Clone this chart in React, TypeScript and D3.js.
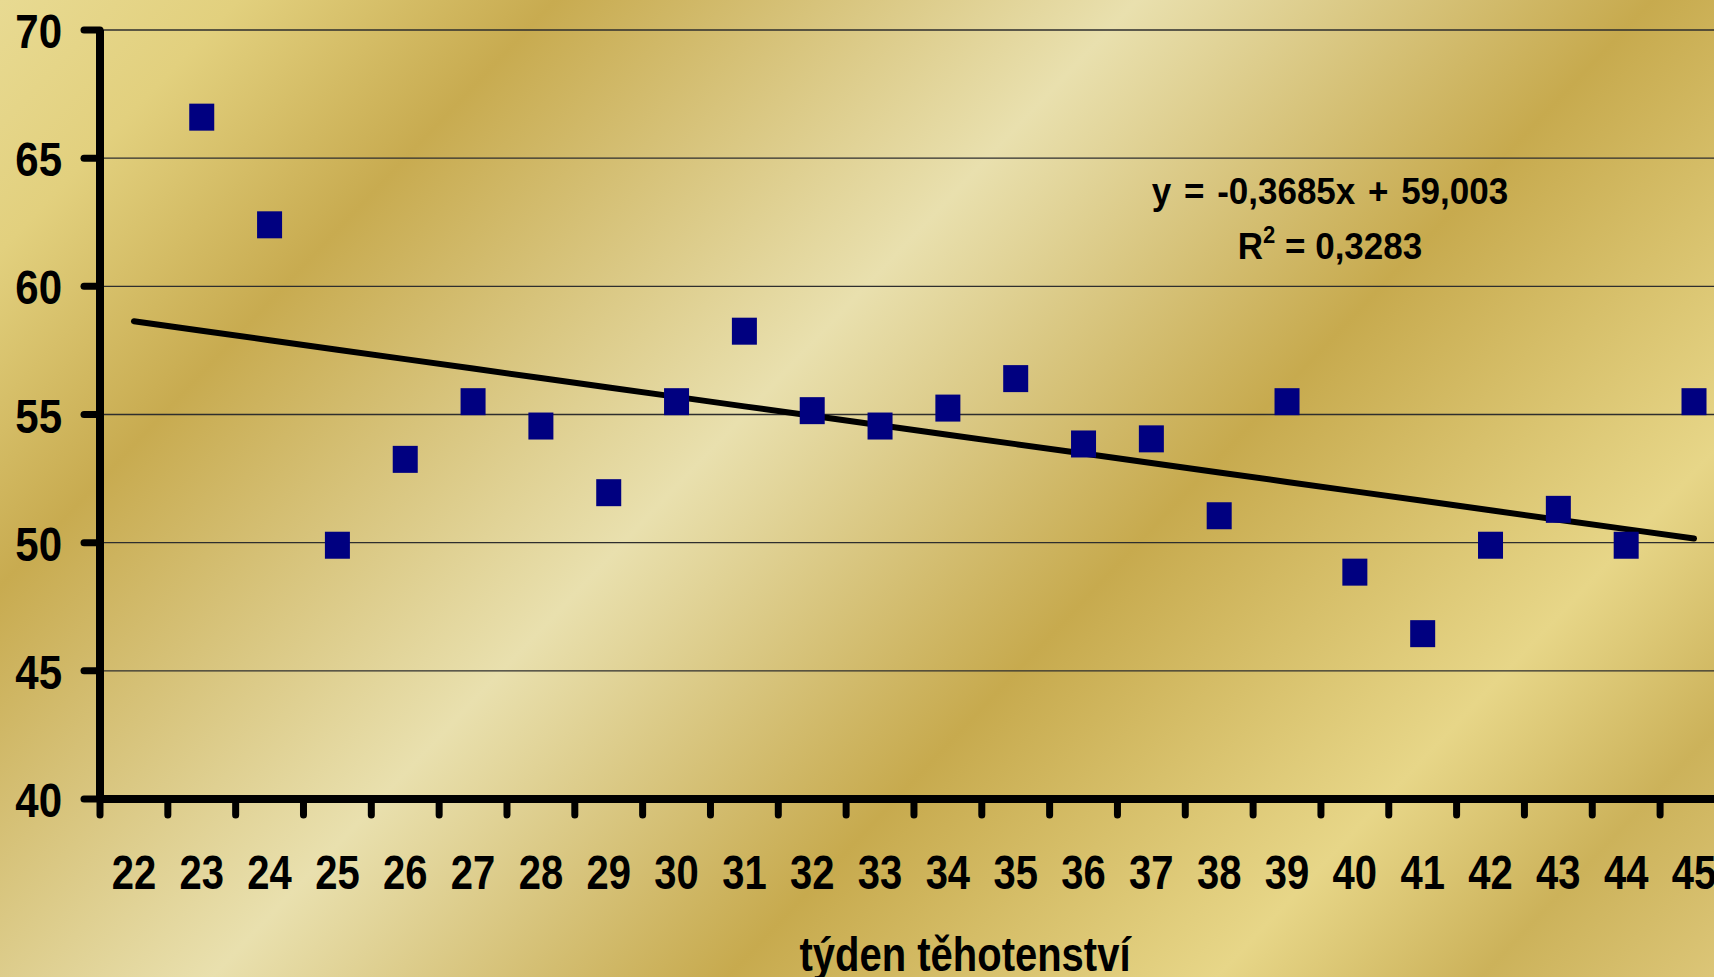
import React from "react";
import * as d3 from "d3";

const WEEKS: string[] = ["22","23","24","25","26","27","28","29","30","31","32","33","34","35","36","37","38","39","40","41","42","43","44","45"];
const VALUES: (number | null)[] = [null, 66.6, 62.4, 49.9, 53.25, 55.5, 54.55, 51.95, 55.5, 58.25, 55.15, 54.55, 55.25, 56.4, 53.85, 54.05, 51.05, 55.5, 48.85, 46.45, 49.9, 51.3, 49.9, 55.5];
const Y_TICKS: number[] = [40, 45, 50, 55, 60, 65, 70];
const TREND_SLOPE = -0.3685;
const TREND_INTERCEPT = 59.003;
const EQUATION_TEXT = "y = -0,3685x + 59,003";
const R2_TEXT = " = 0,3283";
const X_TITLE = "týden těhotenství";

const W = 1714;
const H = 977;
const LEFT = 100;
const BAND = 67.83;
const TOP = 30;
const BOTTOM = 799;
const FONT = "'Liberation Sans', Arial, Helvetica, sans-serif";

export default function App() {
  const x = d3.scaleBand<string>().domain(WEEKS).range([LEFT, LEFT + BAND * WEEKS.length]).paddingInner(0).paddingOuter(0);
  const y = d3.scaleLinear().domain([40, 70]).range([BOTTOM, TOP]);
  const cx = (w: string) => (x(w) as number) + x.bandwidth() / 2;

  const trendPts: [number, number][] = WEEKS.map((w, i) => [cx(w), y(TREND_SLOPE * (i + 1) + TREND_INTERCEPT)]);
  const trendPath = d3.line()(trendPts) || "";

  const stops: [number, string][] = [
    [0, "#e8da92"],
    [0.09, "#e2d07e"],
    [0.21, "#c8ab50"],
    [0.43, "#e9e0ae"],
    [0.625, "#c7aa4e"],
    [0.81, "#e7d688"],
    [0.91, "#ccb25a"],
    [1, "#dcc678"],
  ];

  return (
    <div>
      <style>{`html,body{margin:0;padding:0;overflow:hidden;}`}</style>
      <svg width={W} height={H} style={{ display: "block" }}>
        <defs>
          <linearGradient id="gold" gradientUnits="userSpaceOnUse" x1={0} y1={0} x2={1394} y2={1320}>
            {stops.map(([o, c], i) => (
              <stop key={i} offset={o} stopColor={c} />
            ))}
          </linearGradient>
        </defs>
        <rect x={0} y={0} width={W} height={H} fill="url(#gold)" />

        {Y_TICKS.filter((t) => t > 40).map((t) => (
          <line key={"g" + t} x1={LEFT} x2={W} y1={y(t)} y2={y(t)} stroke="#2e2e2e" strokeWidth={1.3} />
        ))}

        {Y_TICKS.map((t) => (
          <line key={"yt" + t} x1={LEFT - 16} x2={LEFT} y1={y(t)} y2={y(t)} stroke="#000" strokeWidth={7} strokeLinecap="round" />
        ))}
        {WEEKS.map((w) => (
          <line key={"xt" + w} x1={x(w) as number} x2={x(w) as number} y1={BOTTOM} y2={BOTTOM + 16} stroke="#000" strokeWidth={7} strokeLinecap="round" />
        ))}
        <line x1={LEFT} x2={LEFT} y1={TOP} y2={BOTTOM} stroke="#000" strokeWidth={8} />
        <line x1={LEFT} x2={W + 10} y1={BOTTOM} y2={BOTTOM} stroke="#000" strokeWidth={8} />

        {Y_TICKS.map((t) => (
          <g key={"yl" + t} transform={`translate(62,${y(t) + 18}) scale(1.05,1.18)`}>
            <text x={0} y={0} textAnchor="end" fontFamily={FONT} fontWeight="bold" fontSize={40} fill="#000">
              {t}
            </text>
          </g>
        ))}

        {WEEKS.map((w) => (
          <g key={"xl" + w} transform={`translate(${cx(w)},889) scale(1,1.18)`}>
            <text x={0} y={0} textAnchor="middle" fontFamily={FONT} fontWeight="bold" fontSize={40} fill="#000">
              {w}
            </text>
          </g>
        ))}

        <g transform={`translate(965,971) scale(1,1.18)`}>
          <text x={0} y={0} textAnchor="middle" fontFamily={FONT} fontWeight="bold" fontSize={40} fill="#000">
            {X_TITLE}
          </text>
        </g>

        <path d={trendPath} fill="none" stroke="#000" strokeWidth={6} strokeLinecap="round" strokeLinejoin="round" />

        {WEEKS.map((w, i) => {
          const v = VALUES[i];
          if (v == null) return null;
          return <rect key={"m" + w} x={cx(w) - 12.5} y={y(v) - 13.5} width={25} height={27} fill="#000080" />;
        })}

        <g transform={`translate(1330,204) scale(1,1.05)`}>
          <text x={0} y={0} textAnchor="middle" fontFamily={FONT} fontWeight="bold" fontSize={35} wordSpacing={3} fill="#000">
            {EQUATION_TEXT}
          </text>
        </g>
        <g transform={`translate(1330,259) scale(1,1.05)`}>
          <text x={0} y={0} textAnchor="middle" fontFamily={FONT} fontWeight="bold" fontSize={35} fill="#000">
            R<tspan fontSize={22} dy={-15}>2</tspan>
            <tspan dy={15}>{R2_TEXT}</tspan>
          </text>
        </g>
      </svg>
    </div>
  );
}
